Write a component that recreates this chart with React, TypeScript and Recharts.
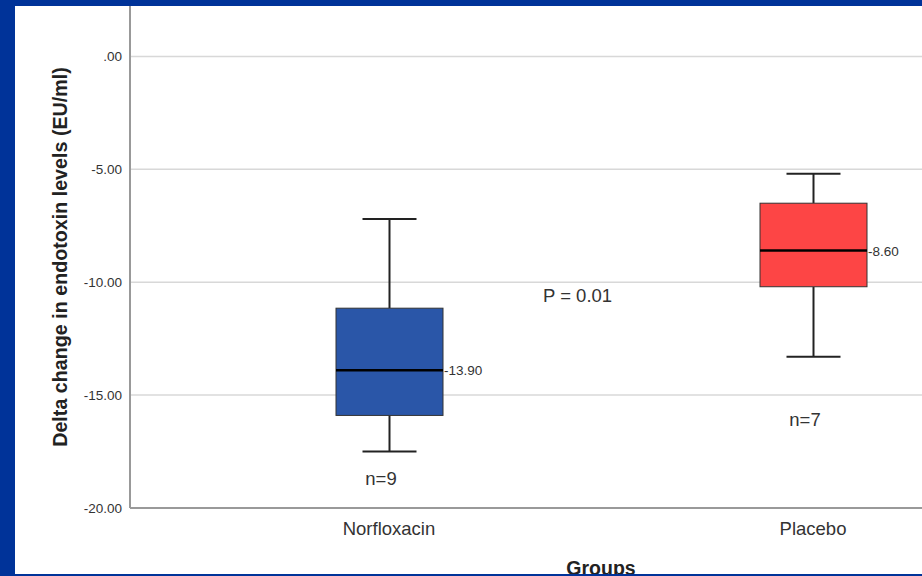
import React from "react";
import {
  BarChart,
  Bar,
  XAxis,
  YAxis,
  CartesianGrid,
  ReferenceDot,
} from "recharts";

const groups = ["Norfloxacin", "Placebo"];
const whiskerLow = [-17.5, -13.3];
const q1 = [-15.9, -10.2];
const median = [-13.9, -8.6];
const q3 = [-11.15, -6.5];
const whiskerHigh = [-7.2, -5.2];
const sampleSizes = [9, 7];
const nLabelY = [-18.6, -15.95];
const boxColors = ["#2a56a8", "#fd4545"];
const yTicks = [-20, -15, -10, -5, 0];

const data = groups.map((group, i) => ({
  group,
  range: [whiskerLow[i], whiskerHigh[i]],
  low: whiskerLow[i],
  q1: q1[i],
  median: median[i],
  q3: q3[i],
  high: whiskerHigh[i],
  n: sampleSizes[i],
  nY: nLabelY[i],
  color: boxColors[i],
}));

const FONT = "'Liberation Sans', Arial, sans-serif";

const fmtTick = (v: number) => (v === 0 ? ".00" : v.toFixed(2));

function BoxShape(props: any) {
  const { x, y, width, height, payload } = props;
  const top = Math.min(y, y + height);
  const h = Math.abs(height);
  const ppu = h / (payload.high - payload.low);
  const py = (v: number) => top + (payload.high - v) * ppu;
  const cx = x + width / 2;
  const cap = 27;
  const yQ3 = py(payload.q3);
  const yQ1 = py(payload.q1);
  const yMed = py(payload.median);
  return (
    <g>
      <line x1={cx} x2={cx} y1={py(payload.high)} y2={yQ3} stroke="#222" strokeWidth={2} />
      <line x1={cx} x2={cx} y1={yQ1} y2={py(payload.low)} stroke="#222" strokeWidth={2} />
      <line x1={cx - cap} x2={cx + cap} y1={py(payload.high)} y2={py(payload.high)} stroke="#222" strokeWidth={2} />
      <line x1={cx - cap} x2={cx + cap} y1={py(payload.low)} y2={py(payload.low)} stroke="#222" strokeWidth={2} />
      <rect x={x} y={yQ3} width={width} height={yQ1 - yQ3} fill={payload.color} stroke="#333" strokeWidth={1} />
      <line x1={x} x2={x + width} y1={yMed} y2={yMed} stroke="#000" strokeWidth={2.5} />
      <text x={x + width + 1} y={yMed + 5} fontSize={13.5} fill="#333" fontFamily={FONT}>
        {payload.median.toFixed(2)}
      </text>
    </g>
  );
}

const XTick = (props: any) => {
  const { x, y, payload } = props;
  return (
    <text x={x} y={y + 19} textAnchor="middle" fontSize={18.5} fill="#333" fontFamily={FONT}>
      {payload.value}
    </text>
  );
};

const YTick = (props: any) => {
  const { x, y, payload } = props;
  return (
    <text x={x} y={y + 5} textAnchor="end" fontSize={13.5} fill="#333" fontFamily={FONT}>
      {fmtTick(payload.value)}
    </text>
  );
};

const YLabel = (props: any) => {
  const { viewBox } = props;
  const cx = viewBox.x + 60;
  const cy = viewBox.y + viewBox.height / 2 + 3;
  return (
    <text
      x={cx}
      y={cy}
      transform={`rotate(-90, ${cx}, ${cy})`}
      textAnchor="middle"
      dominantBaseline="central"
      fontSize={19.7}
      fontWeight="bold"
      fill="#222"
      fontFamily={FONT}
    >
      Delta change in endotoxin levels (EU/ml)
    </text>
  );
};

const XLabel = (props: any) => {
  const { viewBox } = props;
  return (
    <text
      x={viewBox.x + 471}
      y={viewBox.y + 67}
      textAnchor="middle"
      fontSize={19.5}
      fontWeight="bold"
      fill="#222"
      fontFamily={FONT}
    >
      Groups
    </text>
  );
};

const NLabel = (text: string) => (props: any) => {
  const { viewBox } = props;
  return (
    <text
      x={viewBox.x - 8}
      y={viewBox.y + 9}
      textAnchor="middle"
      fontSize={18.5}
      fill="#333"
      fontFamily={FONT}
    >
      {text}
    </text>
  );
};

export default function App() {
  return (
    <div
      style={{
        position: "fixed",
        left: 0,
        top: 0,
        width: 922,
        height: 576,
        overflow: "hidden",
        background: "#fff",
      }}
    >
      <BarChart
        width={1025}
        height={576}
        data={data}
        margin={{ top: 0, right: 0, left: 0, bottom: 0 }}
      >
        <CartesianGrid vertical={false} stroke="#d8d8d8" strokeWidth={1.5} />
        <XAxis
          dataKey="group"
          type="category"
          height={68}
          padding={{ left: 47, right: 0 }}
          axisLine={{ stroke: "#999", strokeWidth: 2 }}
          tickLine={false}
          tick={<XTick />}
          interval={0}
          label={<XLabel />}
        />
        <YAxis
          type="number"
          domain={[-20, 2.5]}
          ticks={yTicks}
          width={130}
          axisLine={{ stroke: "#999", strokeWidth: 2 }}
          tickLine={false}
          tick={<YTick />}
          allowDataOverflow
          label={<YLabel />}
        />
        <Bar
          dataKey="range"
          barSize={107}
          shape={<BoxShape />}
          isAnimationActive={false}
        />
        {data.map((d) => (
          <ReferenceDot
            key={d.group}
            x={d.group}
            y={d.nY}
            r={0}
            fill="none"
            stroke="none"
            label={NLabel(`n=${d.n}`)}
          />
        ))}
      </BarChart>
      <div
        style={{
          position: "absolute",
          left: 543,
          top: 285,
          fontSize: 18.5,
          color: "#333",
          fontFamily: FONT,
          lineHeight: "22px",
        }}
      >
        P = 0.01
      </div>
      <div style={{ position: "absolute", left: 0, top: 0, width: 922, height: 6, background: "#003399" }} />
      <div style={{ position: "absolute", left: 0, top: 0, width: 15, height: 576, background: "#003399" }} />
      <div style={{ position: "absolute", left: 0, top: 574, width: 922, height: 2, background: "#003399" }} />
    </div>
  );
}
